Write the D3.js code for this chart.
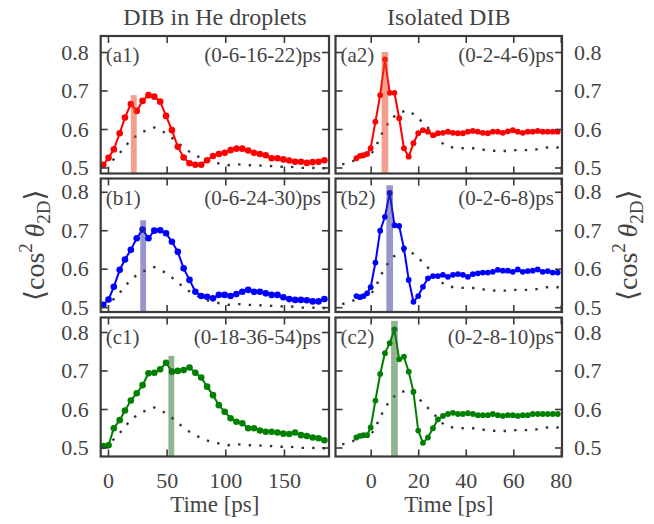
<!DOCTYPE html>
<html lang="en">
<head>
    <meta charset="UTF-8">
    <title>Alignment traces</title>
    <script src="https://d3js.org/d3.v7.min.js"></script>
    <style>
        body { margin: 0; background: #ffffff; }
        svg { display: block; font-family: "Liberation Serif", "DejaVu Serif", serif; }
        .tick text { fill: #444; font-size: 22px; font-family: "Liberation Serif", "DejaVu Serif", serif; }
        .tick line { stroke: #3a3a3a; stroke-width: 1.6; }
        .txt { fill: #444; }
    </style>
</head>
<body>
<svg width="654" height="524"></svg>
<script>
    // ---- data ----
    const colTitles = ["DIB in He droplets", "Isolated DIB"];
    const panelLabels = ["(a1)", "(b1)", "(c1)", "(a2)", "(b2)", "(c2)"];
    const pulseLabels = ["(0-6-16-22)ps", "(0-6-24-30)ps", "(0-18-36-54)ps",
                         "(0-2-4-6)ps", "(0-2-6-8)ps", "(0-2-8-10)ps"];
    const xTicksLeft = [0, 50, 100, 150];
    const xTicksRight = [0, 20, 40, 60, 80];
    const yTicks = [0.5, 0.6, 0.7, 0.8];

    // DIB in He droplets, time axis [ps]
    const leftT = [-4, 0.5, 5, 10, 14.5, 19.5, 24.5, 29.5, 34.5, 39.5, 44.5, 49.5, 54.5, 59.5,
                   64.5, 69.5, 74.5, 79.5, 84.5, 89.5, 94.5, 99.5, 104.5, 109.5, 114.5, 119.5,
                   124.5, 129.5, 134.5, 139.5, 144.5, 149.5, 154.5, 159.5, 164.5, 169.5, 174.5,
                   179.5, 184.5];
    const a1V = [0.507, 0.525, 0.547, 0.589, 0.630, 0.665, 0.647, 0.673, 0.688, 0.684, 0.671, 0.634,
                 0.597, 0.554, 0.526, 0.511, 0.507, 0.507, 0.519, 0.530, 0.535, 0.538, 0.545, 0.549,
                 0.549, 0.544, 0.538, 0.535, 0.532, 0.524, 0.524, 0.521, 0.518, 0.515, 0.515, 0.512,
                 0.514, 0.515, 0.519];
    const b1V = [0.506, 0.520, 0.553, 0.597, 0.624, 0.649, 0.679, 0.702, 0.679, 0.699, 0.700, 0.692,
                 0.670, 0.644, 0.601, 0.571, 0.540, 0.529, 0.527, 0.523, 0.532, 0.532, 0.529, 0.534,
                 0.540, 0.545, 0.540, 0.540, 0.536, 0.532, 0.532, 0.526, 0.521, 0.519, 0.519, 0.518,
                 0.515, 0.515, 0.521];
    const c1V = [0.504, 0.506, 0.550, 0.571, 0.596, 0.622, 0.641, 0.662, 0.693, 0.694, 0.703, 0.720,
                 0.697, 0.699, 0.701, 0.708, 0.694, 0.682, 0.658, 0.636, 0.610, 0.593, 0.576, 0.567,
                 0.563, 0.550, 0.550, 0.544, 0.541, 0.541, 0.539, 0.536, 0.535, 0.539, 0.532, 0.530,
                 0.526, 0.524, 0.519];
    // single-pulse reference (dotted), droplets
    const refLT = [-4, 5, 11, 17, 23, 30, 39.5, 47, 55, 62, 69.5, 77, 85.5, 94, 102, 111, 120.5,
                   129, 137.5, 146.5, 155, 164, 173.5, 182.5, 188];
    const refLV = [0.505, 0.521, 0.541, 0.563, 0.580, 0.593, 0.604, 0.593, 0.576, 0.558, 0.541, 0.528,
                   0.517, 0.511, 0.506, 0.508, 0.506, 0.505, 0.504, 0.502, 0.502, 0.499, 0.499, 0.498,
                   0.498];

    // isolated DIB, time axis [ps]
    const rightT = [-6, -4.5, -3, -1.5, 0, 2, 4, 6, 8, 10, 12, 14, 16, 18, 20, 22, 24.1, 26.2, 28.3,
                    30.4, 32.5, 34.6, 36.7, 38.8, 40.9, 43, 45.1, 47.2, 49.3, 51.4, 53.5, 55.6, 57.7,
                    59.8, 61.9, 64, 66.1, 68.2, 70.3, 72.4, 74.5, 76.6, 78.7];
    const a2V = [0.524, 0.530, 0.532, 0.535, 0.550, 0.619, 0.688, 0.781, 0.694, 0.694, 0.628, 0.550,
                 0.528, 0.563, 0.589, 0.597, 0.593, 0.584, 0.589, 0.590, 0.593, 0.590, 0.589, 0.589,
                 0.593, 0.595, 0.593, 0.590, 0.589, 0.593, 0.593, 0.590, 0.594, 0.597, 0.593, 0.590,
                 0.593, 0.593, 0.595, 0.593, 0.593, 0.593, 0.593];
    const b2V = [0.529, 0.526, 0.529, 0.536, 0.552, 0.616, 0.699, 0.735, 0.797, 0.713, 0.711, 0.653,
                 0.571, 0.514, 0.529, 0.553, 0.575, 0.581, 0.581, 0.584, 0.579, 0.584, 0.586, 0.584,
                 0.579, 0.586, 0.588, 0.590, 0.590, 0.592, 0.597, 0.595, 0.595, 0.592, 0.598, 0.592,
                 0.594, 0.595, 0.598, 0.592, 0.594, 0.590, 0.590];
    const c2V = [0.526, 0.530, 0.532, 0.532, 0.552, 0.622, 0.691, 0.745, 0.771, 0.807, 0.729, 0.736,
                 0.697, 0.645, 0.544, 0.512, 0.526, 0.550, 0.573, 0.582, 0.587, 0.590, 0.587, 0.587,
                 0.589, 0.587, 0.584, 0.584, 0.584, 0.587, 0.584, 0.582, 0.584, 0.584, 0.582, 0.584,
                 0.584, 0.587, 0.587, 0.587, 0.587, 0.587, 0.587];
    // single-pulse reference (dotted), isolated
    const refRT = [-12, -9.5, -4, 0, 2, 3.6, 8, 11.4, 15.4, 19, 22, 25, 31.3, 35.5, 40, 44.3, 48.5,
                   52.6, 57, 61, 65.6, 69.8, 74, 78, 80.3];
    const refRV = [0.508, 0.512, 0.525, 0.535, 0.548, 0.576, 0.622, 0.641, 0.649, 0.635, 0.616, 0.597,
                   0.556, 0.551, 0.550, 0.550, 0.545, 0.543, 0.543, 0.545, 0.545, 0.547, 0.552, 0.552,
                   0.552];

    // last-pulse markers (shaded bars)
    const barT = [22, 30, 54, 6, 8, 10];
    const barTop = [0.688, 0.726, 0.738, 0.800, 0.817, 0.829];

    // ---- layout ----
    const cols = [
        {x0: 100.7, x1: 329, dom: [-6.2, 188.4], ticks: xTicksLeft, barW: 5, r: 3.3},
        {x0: 335.5, x1: 562, dom: [-14.8, 80.5], ticks: xTicksRight, barW: 2.8, r: 2.9}
    ];
    const rows = [
        {y0: 36, y1: 173.5, dom: [0.4844, 0.8416], color: "#ff0000", bar: "#e8401c"},
        {y0: 178.5, y1: 312, dom: [0.4875, 0.8345], color: "#0000ff", bar: "#30309a"},
        {y0: 317.5, y1: 456.5, dom: [0.4766, 0.8377], color: "#008000", bar: "#226b22"}
    ];
    const series = [[leftT, a1V], [leftT, b1V], [leftT, c1V], [rightT, a2V], [rightT, b2V], [rightT, c2V]];
    const refs = [[refLT, refLV], [refRT, refRV]];

    const svg = d3.select("svg");

    colTitles.forEach((t, c) => {
        svg.append("text").attr("class", "txt")
           .attr("x", (cols[c].x0 + cols[c].x1) / 2).attr("y", 25)
           .attr("text-anchor", "middle").style("font-size", "24px")
           .text(t);
    });

    cols.forEach((col, c) => {
        const x = d3.scaleLinear().domain(col.dom).range([col.x0, col.x1]);
        rows.forEach((row, r) => {
            const k = c * 3 + r;
            const y = d3.scaleLinear().domain(row.dom).range([row.y1, row.y0]);
            const g = svg.append("g");

            // dotted single-pulse reference
            const ref = refs[c];
            g.append("path")
             .attr("d", d3.line().x((d, i) => x(ref[0][i])).y(d => y(d))(ref[1]))
             .attr("fill", "none").attr("stroke", "#333")
             .attr("stroke-width", 2.4).attr("stroke-dasharray", "2.4 8.2");

            // measured trace
            const [ts, vs] = series[k];
            g.append("path")
             .attr("d", d3.line().x((d, i) => x(ts[i])).y(d => y(d))(vs))
             .attr("fill", "none").attr("stroke", row.color).attr("stroke-width", 2);
            g.selectAll("circle").data(vs).enter().append("circle")
             .attr("cx", (d, i) => x(ts[i])).attr("cy", d => y(d))
             .attr("r", col.r).attr("fill", row.color);

            // last pulse bar
            g.append("rect")
             .attr("x", x(barT[k] - col.barW / 2)).attr("width", x(barT[k] + col.barW / 2) - x(barT[k] - col.barW / 2))
             .attr("y", y(barTop[k])).attr("height", y(row.dom[0]) - y(barTop[k]))
             .attr("fill", row.bar).attr("fill-opacity", 0.5);

            // inward ticks on all four sides
            const ax = (gen, tx, ty) => {
                const a = g.append("g").attr("transform", `translate(${tx},${ty})`).call(gen);
                a.select(".domain").remove();
                a.attr("font-family", null);
                return a;
            };
            const bottom = ax(d3.axisBottom(x).tickValues(col.ticks).tickSize(-7).tickPadding(14)
                              .tickFormat(r === 2 ? d3.format("d") : ""), 0, row.y1);
            bottom.selectAll("text").attr("dy", "0.8em");
            ax(d3.axisTop(x).tickValues(col.ticks).tickSize(-7).tickFormat(""), 0, row.y0);
            ax(d3.axisLeft(y).tickValues(yTicks).tickSize(-7).tickPadding(12)
                .tickFormat(c === 0 ? d3.format(".1f") : ""), col.x0, 0);
            ax(d3.axisRight(y).tickValues(yTicks).tickSize(-7).tickPadding(12)
                .tickFormat(c === 1 ? d3.format(".1f") : ""), col.x1, 0);

            g.append("rect")
             .attr("x", col.x0).attr("y", row.y0)
             .attr("width", col.x1 - col.x0).attr("height", row.y1 - row.y0)
             .attr("fill", "none").attr("stroke", "#3a3a3a").attr("stroke-width", 2.2);

            g.append("text").attr("class", "txt")
             .attr("x", col.x0 + 5).attr("y", row.y0 + 26)
             .style("font-size", "21px").text(panelLabels[k]);
            g.append("text").attr("class", "txt")
             .attr("x", col.x1 - 8).attr("y", row.y0 + 26)
             .attr("text-anchor", "end").style("font-size", "21px").text(pulseLabels[k]);
        });

        svg.append("text").attr("class", "txt")
           .attr("x", (col.x0 + col.x1) / 2).attr("y", 512)
           .attr("text-anchor", "middle").style("font-size", "23px")
           .text("Time [ps]");
    });

    // y labels  <cos^2 theta_2D>
    const yMid = (rows[1].y0 + rows[1].y1) / 2;
    [44, 637].forEach(xp => {
        const t = svg.append("text").attr("class", "txt")
            .attr("transform", `translate(${xp},${yMid}) rotate(-90)`)
            .attr("text-anchor", "middle").style("font-size", "28px");
        t.append("tspan").text("\u27E8cos");
        t.append("tspan").attr("dy", -12).style("font-size", "19px").text("2");
        t.append("tspan").attr("dy", 12).text("\u2009");
        t.append("tspan").style("font-style", "italic").text("\u03B8");
        t.append("tspan").attr("dy", 6).style("font-size", "19px").text("2D");
        t.append("tspan").attr("dy", -6).text("\u27E9");
    });
</script>
</body>
</html>
